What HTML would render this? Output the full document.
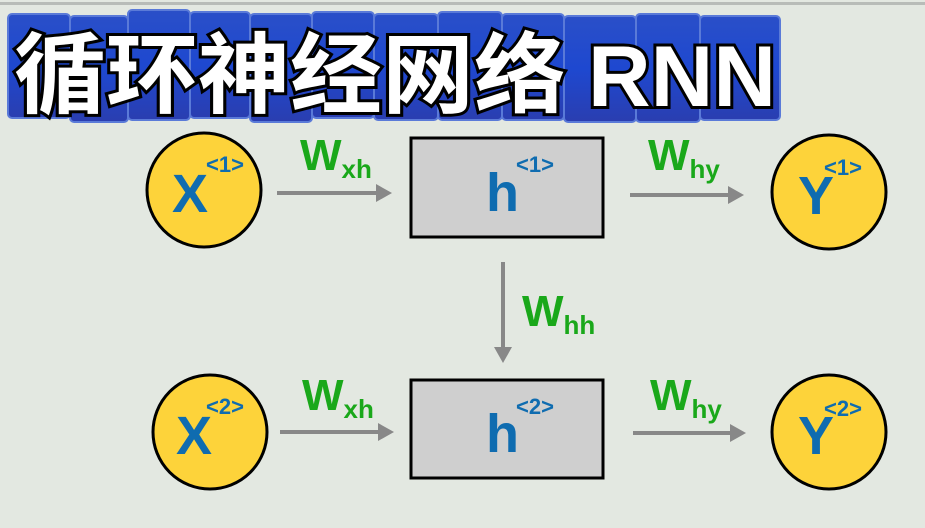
<!DOCTYPE html>
<html><head><meta charset="utf-8"><style>
html,body{margin:0;padding:0;background:#e3e8e1;}
svg{display:block;}
.t{font-family:"Liberation Sans","Noto Sans CJK SC",sans-serif;font-weight:bold;}
</style></head><body>
<svg width="925" height="528" viewBox="0 0 925 528" xmlns="http://www.w3.org/2000/svg">
<rect width="925" height="528" fill="#e3e8e1"/>
<rect x="0" y="2" width="925" height="3" fill="#b8bcb8"/>
<defs>
<linearGradient id="tile" x1="0" y1="0" x2="0" y2="1">
<stop offset="0" stop-color="#2a4fc8"/><stop offset="0.5" stop-color="#1e48d0"/><stop offset="1" stop-color="#2a3eb0"/>
</linearGradient>
</defs>
<g stroke="#5a7ad8" stroke-width="2" fill="url(#tile)">
<rect x="8" y="14" width="62" height="104" rx="4"/>
<rect x="70" y="16" width="58" height="106" rx="4"/>
<rect x="128" y="10" width="62" height="110" rx="4"/>
<rect x="190" y="12" width="60" height="106" rx="4"/>
<rect x="250" y="14" width="62" height="108" rx="4"/>
<rect x="312" y="12" width="62" height="106" rx="4"/>
<rect x="374" y="14" width="64" height="106" rx="4"/>
<rect x="438" y="12" width="64" height="108" rx="4"/>
<rect x="502" y="14" width="62" height="106" rx="4"/>
<rect x="564" y="16" width="72" height="106" rx="4"/>
<rect x="636" y="14" width="64" height="108" rx="4"/>
<rect x="700" y="16" width="80" height="104" rx="4"/>
</g>
<text x="14" y="106" class="t" font-size="88" fill="#fff" stroke="#000" stroke-width="6" paint-order="stroke" textLength="552" lengthAdjust="spacingAndGlyphs">循环神经网络</text>
<text x="588" y="106" class="t" font-size="86" fill="#fff" stroke="#000" stroke-width="6" paint-order="stroke" textLength="188" lengthAdjust="spacingAndGlyphs">RNN</text>

<g stroke="#000" stroke-width="3" fill="#fdd33a">
<circle cx="204" cy="190" r="57"/>
<circle cx="829" cy="192" r="57"/>
<circle cx="210" cy="432" r="57"/>
<circle cx="829" cy="432" r="57"/>
</g>
<g stroke="#000" stroke-width="3" fill="#cfcfcf">
<rect x="411" y="138" width="192" height="99"/>
<rect x="411" y="380" width="192" height="98"/>
</g>
<g class="t" fill="#0f6cb0">
<text x="172" y="212" font-size="54">X</text><text x="206" y="172" font-size="22">&lt;1&gt;</text>
<text x="486" y="211" font-size="54">h</text><text x="516" y="172" font-size="22">&lt;1&gt;</text>
<text x="798" y="214" font-size="54">Y</text><text x="824" y="175" font-size="22">&lt;1&gt;</text>
<text x="176" y="454" font-size="54">X</text><text x="206" y="414" font-size="22">&lt;2&gt;</text>
<text x="486" y="452" font-size="54">h</text><text x="516" y="414" font-size="22">&lt;2&gt;</text>
<text x="798" y="454" font-size="54">Y</text><text x="824" y="416" font-size="22">&lt;2&gt;</text>
</g>
<g stroke="#888" stroke-width="4">
<line x1="277" y1="193" x2="378" y2="193"/>
<line x1="630" y1="195" x2="730" y2="195"/>
<line x1="503" y1="262" x2="503" y2="348"/>
<line x1="280" y1="432" x2="380" y2="432"/>
<line x1="633" y1="433" x2="732" y2="433"/>
</g>
<g fill="#888">
<polygon points="392,193 376,184 376,202"/>
<polygon points="744,195 728,186 728,204"/>
<polygon points="503,363 494,347 512,347"/>
<polygon points="394,432 378,423 378,441"/>
<polygon points="746,433 730,424 730,442"/>
</g>
<g class="t" fill="#1aa81a">
<text x="300" y="170" font-size="44">W<tspan font-size="26" dy="8">xh</tspan></text>
<text x="648" y="170" font-size="44">W<tspan font-size="26" dy="8">hy</tspan></text>
<text x="522" y="326" font-size="44">W<tspan font-size="26" dy="8">hh</tspan></text>
<text x="302" y="410" font-size="44">W<tspan font-size="26" dy="8">xh</tspan></text>
<text x="650" y="410" font-size="44">W<tspan font-size="26" dy="8">hy</tspan></text>
</g>
</svg>
</body></html>
